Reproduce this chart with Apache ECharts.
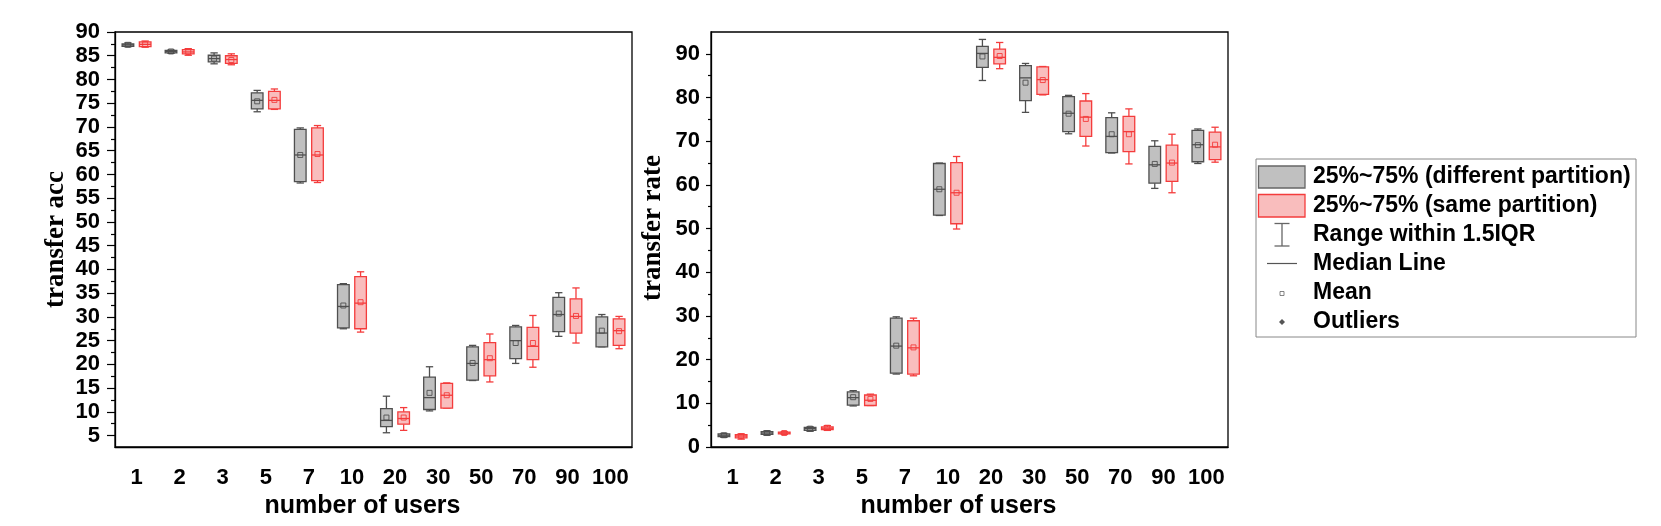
<!DOCTYPE html>
<html>
<head>
<meta charset="utf-8">
<script src="https://cdn.jsdelivr.net/npm/echarts@6/dist/echarts.min.js"></script>
<style>
html, body { margin: 0; padding: 0; background: #fff; }
#chart { width: 1661px; height: 526px; }
</style>
</head>
<body>
<div id="chart"></div>
<script>
const users = ['1', '2', '3', '5', '7', '10', '20', '30', '50', '70', '90', '100'];

// each row: [low whisker, q1, median, q3, high whisker, mean]
const accDiff = [
    [86.9, 87.0, 87.3, 87.5, 87.7, 87.3],
    [85.5, 85.6, 85.9, 86.1, 86.2, 85.9],
    [83.3, 83.7, 84.4, 85.1, 85.6, 84.4],
    [73.2, 73.8, 75.6, 77.2, 77.7, 75.4],
    [58.2, 58.5, 64.1, 69.5, 69.8, 64.1],
    [27.5, 27.7, 32.2, 36.8, 37.0, 32.4],
    [5.6, 6.9, 8.2, 10.7, 13.3, 8.8],
    [10.2, 10.5, 13.0, 17.3, 19.5, 14.0],
    [16.6, 16.7, 20.2, 23.7, 24.0, 20.3],
    [20.2, 21.2, 25.0, 27.9, 28.2, 24.5],
    [25.9, 26.9, 30.5, 34.1, 35.1, 30.7],
    [23.7, 23.7, 26.6, 30.0, 30.5, 27.1]
];
const accSame = [
    [86.8, 86.9, 87.4, 87.9, 88.1, 87.4],
    [85.1, 85.4, 85.8, 86.3, 86.5, 85.8],
    [83.1, 83.4, 84.2, 85.0, 85.4, 84.1],
    [73.7, 73.8, 75.6, 77.5, 78.0, 75.7],
    [58.3, 58.7, 64.1, 69.8, 70.3, 64.3],
    [26.8, 27.5, 32.9, 38.5, 39.5, 33.1],
    [6.1, 7.4, 8.6, 10.0, 10.9, 8.8],
    [10.8, 10.8, 13.5, 16.0, 16.1, 13.5],
    [16.3, 17.6, 21.0, 24.6, 26.4, 21.3],
    [19.4, 21.0, 23.8, 27.8, 30.3, 24.5],
    [24.5, 26.6, 30.1, 33.8, 36.1, 30.2],
    [23.3, 24.0, 27.1, 29.6, 30.1, 27.0]
];
const rateDiff = [
    [2.2, 2.4, 2.7, 3.0, 3.1, 2.7],
    [2.7, 2.9, 3.2, 3.5, 3.7, 3.2],
    [3.6, 3.8, 4.2, 4.5, 4.6, 4.2],
    [9.4, 9.6, 11.3, 12.6, 12.9, 11.4],
    [16.7, 16.9, 23.1, 29.5, 29.8, 23.2],
    [53.0, 53.1, 59.0, 64.9, 65.0, 59.0],
    [83.9, 86.9, 90.1, 91.7, 93.3, 89.4],
    [76.6, 79.3, 84.5, 87.3, 87.8, 83.4],
    [71.7, 72.2, 76.4, 80.2, 80.5, 76.3],
    [67.3, 67.4, 71.1, 75.4, 76.5, 71.6],
    [59.2, 60.4, 64.6, 68.8, 70.1, 64.8],
    [64.9, 65.3, 69.2, 72.5, 72.8, 69.1]
];
const rateSame = [
    [1.8, 2.1, 2.5, 2.8, 3.0, 2.5],
    [2.9, 3.0, 3.2, 3.4, 3.5, 3.2],
    [3.8, 4.0, 4.3, 4.6, 4.9, 4.4],
    [9.5, 9.5, 10.7, 11.9, 12.1, 11.0],
    [16.3, 16.7, 22.7, 28.9, 29.5, 22.8],
    [49.9, 51.1, 58.2, 65.1, 66.5, 58.2],
    [86.6, 87.7, 89.2, 91.1, 92.6, 89.5],
    [80.6, 80.7, 84.1, 87.0, 87.1, 84.0],
    [68.9, 71.1, 75.5, 79.2, 80.9, 75.1],
    [64.8, 67.6, 72.2, 75.7, 77.4, 71.6],
    [58.2, 60.8, 65.0, 69.1, 71.6, 65.1],
    [65.2, 65.8, 68.7, 72.1, 73.2, 69.2]
];

const accTicks = [5, 10, 15, 20, 25, 30, 35, 40, 45, 50, 55, 60, 65, 70, 75, 80, 85, 90];
const accMinor = [7.5, 12.5, 17.5, 22.5, 27.5, 32.5, 37.5, 42.5, 47.5, 52.5, 57.5, 62.5, 67.5, 72.5, 77.5, 82.5, 87.5];
const rateTicks = [0, 10, 20, 30, 40, 50, 60, 70, 80, 90];
const rateMinor = [5, 15, 25, 35, 45, 55, 65, 75, 85];

const legendNames = [
    '25%~75% (different partition)',
    '25%~75% (same partition)',
    'Range within 1.5IQR',
    'Median Line',
    'Mean',
    'Outliers'
];

const GRAY_FILL = '#c0c0c0', GRAY_LINE = '#4f4f4f';
const RED_FILL = '#f9bdbd', RED_LINE = '#f43c3c';
const SANS = 'Liberation Sans';
const SERIF = 'Liberation Serif';

var dom = document.getElementById('chart');
var chart = echarts.init(dom, null, { renderer: 'canvas' });

let makeBox = (side, stroke, fill) => (params, api) => {
    const i = api.value(0);
    const bw = api.size([1, 0])[0];
    const yOf = k => api.coord([i, api.value(k)])[1];
    const x = api.coord([i, api.value(3)])[0] + side * bw * 0.2;
    const yLow = yOf(1), yQ1 = yOf(2), yMed = yOf(3), yQ3 = yOf(4), yHigh = yOf(5), yMean = yOf(6);
    const hw = bw * 0.135, cw = bw * 0.085;
    const line = (x1, y1, x2, y2) => ({
        type: 'line', shape: { x1, y1, x2, y2 }, style: { stroke, lineWidth: 1.3 }
    });
    return {
        type: 'group',
        children: [
            line(x, yHigh, x, yQ3),
            line(x, yQ1, x, yLow),
            line(x - cw, yHigh, x + cw, yHigh),
            line(x - cw, yLow, x + cw, yLow),
            {
                type: 'rect',
                shape: { x: x - hw, y: yQ3, width: 2 * hw, height: yQ1 - yQ3 },
                style: { fill, stroke, lineWidth: 1.3 }
            },
            line(x - hw, yMed, x + hw, yMed),
            {
                type: 'rect',
                shape: { x: x - 2.5, y: yMean - 2.5, width: 5, height: 5 },
                style: { fill: 'none', stroke, lineWidth: 0.9 }
            }
        ]
    };
};

let toItems = rows => rows.map((r, i) => [i].concat(r));

let boxSeries = (name, rows, idx, side, stroke, fill) => ({
    name,
    type: 'custom',
    xAxisIndex: idx,
    yAxisIndex: idx * 2,
    renderItem: makeBox(side, stroke, fill),
    encode: { x: 0, y: [1, 2, 3, 4, 5, 6] },
    data: toItems(rows),
    silent: true
});

let xAxisFor = (gridIndex) => ({
    type: 'category',
    gridIndex,
    data: users,
    boundaryGap: true,
    axisLine: { lineStyle: { color: '#000', width: 1.3 } },
    axisTick: { alignWithLabel: true, interval: 0, length: 8, lineStyle: { color: '#000', width: 1.3 } },
    axisLabel: { interval: 0, color: '#000', fontFamily: SANS, fontWeight: 'bold', fontSize: 22, margin: 20 },
    splitLine: { show: false },
    name: 'number of users',
    nameLocation: 'middle',
    nameGap: 45,
    nameTextStyle: { color: '#000', fontFamily: SANS, fontWeight: 'bold', fontSize: 25, padding: [0, 22, 0, 0] }
});

let yMajor = (gridIndex, min, max, ticks, tickLen, labelMargin, name, nameGap, namePad) => ({
    type: 'value',
    gridIndex,
    min,
    max,
    axisLine: { show: true, lineStyle: { color: '#000', width: 1.3 } },
    axisTick: { show: true, length: tickLen, customValues: ticks, lineStyle: { color: '#000', width: 1.2 } },
    axisLabel: { customValues: ticks, color: '#000', fontFamily: SANS, fontWeight: 'bold', fontSize: 22, margin: labelMargin },
    splitLine: { show: false },
    name,
    nameLocation: 'middle',
    nameGap,
    nameTextStyle: { color: '#000', fontFamily: SERIF, fontWeight: 'bold', fontSize: 27, padding: namePad }
});

let yMinor = (gridIndex, min, max, ticks, tickLen) => ({
    type: 'value',
    gridIndex,
    position: 'left',
    offset: 0,
    min,
    max,
    axisLine: { show: false },
    axisTick: { show: true, length: tickLen, customValues: ticks, lineStyle: { color: '#000', width: 1.2 } },
    axisLabel: { show: false },
    splitLine: { show: false }
});

// legend drawn by hand: the original has icons echarts legend doesn't have
const LX = 1256, LY = 159, rowY = [177, 206, 235, 263.5, 293, 322];
let legendGraphics = [
    { type: 'rect', shape: { x: LX, y: LY, width: 380, height: 178 }, style: { fill: '#fff', stroke: '#888', lineWidth: 1 } },
    { type: 'rect', shape: { x: 1258.5, y: 166, width: 46.5, height: 22 }, style: { fill: GRAY_FILL, stroke: '#666', lineWidth: 1.3 } },
    { type: 'rect', shape: { x: 1258.5, y: 194.5, width: 46.5, height: 22.5 }, style: { fill: RED_FILL, stroke: RED_LINE, lineWidth: 1.3 } },
    { type: 'line', shape: { x1: 1282, y1: 223.5, x2: 1282, y2: 246 }, style: { stroke: '#666', lineWidth: 1.3 } },
    { type: 'line', shape: { x1: 1274.5, y1: 223.5, x2: 1289.5, y2: 223.5 }, style: { stroke: '#666', lineWidth: 1.3 } },
    { type: 'line', shape: { x1: 1274.5, y1: 246, x2: 1289.5, y2: 246 }, style: { stroke: '#666', lineWidth: 1.3 } },
    { type: 'line', shape: { x1: 1267, y1: 263.5, x2: 1297, y2: 263.5 }, style: { stroke: '#555', lineWidth: 1.2 } },
    { type: 'rect', shape: { x: 1280, y: 291.5, width: 4, height: 4 }, style: { fill: '#fff', stroke: '#666', lineWidth: 0.8 } },
    { type: 'polygon', shape: { points: [[1282, 319], [1285, 322], [1282, 325], [1279, 322]] }, style: { fill: '#555' } }
].concat(legendNames.map((t, k) => ({
    type: 'text',
    x: 1313,
    y: rowY[k],
    style: { text: t, fill: '#000', font: 'bold 23px "Liberation Sans"', textVerticalAlign: 'middle' }
})));

var option = {
    animation: false,
    grid: [
        { left: 115, top: 32, width: 517, height: 415, show: true, borderColor: '#000', borderWidth: 1.3 },
        { left: 711, top: 32, width: 517, height: 415, show: true, borderColor: '#000', borderWidth: 1.3 }
    ],
    xAxis: [xAxisFor(0), xAxisFor(1)],
    yAxis: [
        yMajor(0, 2.6, 90, accTicks, 8, 15, 'transfer acc', 45, 0),
        yMinor(0, 2.6, 90, accMinor, 4),
        yMajor(1, 0, 95, rateTicks, 5, 11, 'transfer rate', 44, [0, 0, 0, 23]),
        yMinor(1, 0, 95, rateMinor, 3)
    ],
    series: [
        boxSeries('acc different', accDiff, 0, -1, GRAY_LINE, GRAY_FILL),
        boxSeries('acc same', accSame, 0, 1, RED_LINE, RED_FILL),
        boxSeries('rate different', rateDiff, 1, -1, GRAY_LINE, GRAY_FILL),
        boxSeries('rate same', rateSame, 1, 1, RED_LINE, RED_FILL)
    ],
    graphic: legendGraphics
};

if (option && typeof option === 'object') {
    chart.setOption(option);
}
window.addEventListener('resize', chart.resize);
</script>
</body>
</html>
